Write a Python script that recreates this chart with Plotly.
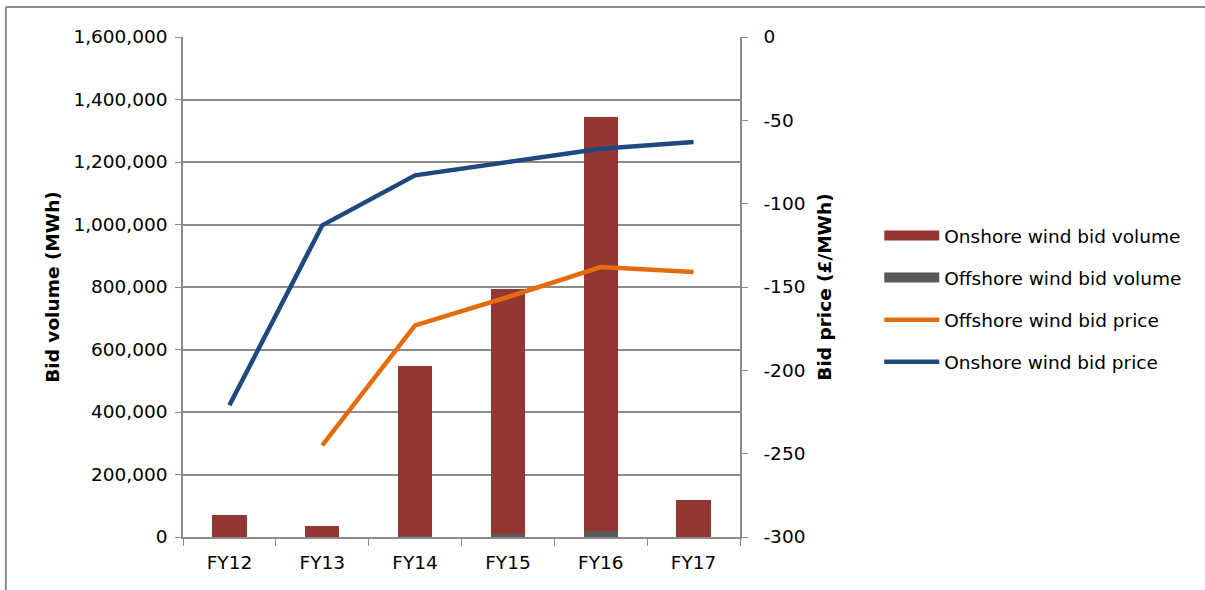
import plotly.graph_objects as go

# Financial years
categories = ["FY12", "FY13", "FY14", "FY15", "FY16", "FY17"]

# Bid volumes (MWh), stacked: offshore at the base, onshore on top
offshore_volume = [0, 0, 4000, 11000, 18000, 0]
onshore_volume = [72000, 36000, 543000, 784000, 1327000, 117000]

# Average bid prices (£/MWh)
onshore_price = [-221, -113, -83, -75, -67, -63]
offshore_price = [None, -245, -173, -156, -138, -141]

# Right-axis tick labels (plain hyphen minus)
price_ticks = [0, -50, -100, -150, -200, -250, -300]
price_tick_text = ["0", "-50", "-100", "-150", "-200", "-250", "-300"]

FONT = "DejaVu Sans"
FS = 18.5
RED = "#943634"
GREY = "#595959"
ORANGE = "#E46C0A"
BLUE = "#1F497D"
AXIS = "#8C8C8C"

fig = go.Figure()

fig.add_trace(go.Bar(x=categories, y=offshore_volume, marker=dict(color=GREY, line=dict(width=0)),
                     width=0.37, showlegend=False, name="Offshore wind bid volume"))
fig.add_trace(go.Bar(x=categories, y=onshore_volume, marker=dict(color=RED, line=dict(width=0)),
                     width=0.37, showlegend=False, name="Onshore wind bid volume"))

fig.add_trace(go.Scatter(x=categories, y=offshore_price, mode="lines", yaxis="y2",
                         line=dict(color=ORANGE, width=4.5), showlegend=False,
                         name="Offshore wind bid price"))
fig.add_trace(go.Scatter(x=categories, y=onshore_price, mode="lines", yaxis="y2",
                         line=dict(color=BLUE, width=4.5), showlegend=False,
                         name="Onshore wind bid price"))

# Legend entries (wide swatches for the bar series)
legend_items = [
    ("Onshore wind bid volume", RED, 10),
    ("Offshore wind bid volume", GREY, 10),
    ("Offshore wind bid price", ORANGE, 4.5),
    ("Onshore wind bid price", BLUE, 4.5),
]
for i, (name, color, w) in enumerate(legend_items):
    fig.add_trace(go.Scatter(x=[None], y=[None], mode="lines", name=name,
                             legendgroup=f"g{i}",
                             line=dict(color=color, width=w), yaxis="y2"))

fig.update_layout(
    width=1205, height=590,
    margin=dict(l=183, r=465, t=37, b=53),
    paper_bgcolor="white", plot_bgcolor="white",
    font=dict(family=FONT, size=FS, color="black"),
    barmode="stack",
    xaxis=dict(
        type="category", showline=True, linecolor=AXIS, linewidth=1.5,
        ticks="outside", tickson="boundaries", ticklen=7, tickcolor=AXIS,
        showgrid=False, tickfont=dict(size=FS), range=[-0.5, 5.5],
        ticklabelstandoff=8,
    ),
    yaxis=dict(
        range=[0, 1600000], dtick=200000, tickformat=",d",
        showline=True, linecolor=AXIS, linewidth=1.5,
        ticks="outside", ticklen=6, tickcolor=AXIS, ticklabelstandoff=4,
        showgrid=True, gridcolor=AXIS, gridwidth=1.5, zeroline=False,
        title=dict(text="<b>Bid volume (MWh)</b>", font=dict(size=FS), standoff=9),
    ),
    yaxis2=dict(
        overlaying="y", side="right", range=[-300, 0],
        tickvals=price_ticks, ticktext=price_tick_text,
        showline=True, linecolor=AXIS, linewidth=1.5,
        ticks="outside", ticklen=6, tickcolor=AXIS, ticklabelstandoff=12,
        showgrid=False, zeroline=False,
        title=dict(text="<b>Bid price (£/MWh)</b>", font=dict(size=FS), standoff=14),
    ),
    legend=dict(
        x=1.25, y=0.64, xanchor="left", yanchor="top",
        font=dict(size=FS), itemwidth=55, tracegroupgap=15,
        traceorder="grouped",
        bgcolor="rgba(0,0,0,0)",
    ),
    shapes=[
        dict(type="line", xref="paper", yref="paper", x0=-0.318, x1=1.84, y0=1.06, y1=1.06,
             line=dict(color=AXIS, width=2)),
        dict(type="line", xref="paper", yref="paper", x0=-0.318, x1=-0.318, y0=1.06, y1=-0.12,
             line=dict(color=AXIS, width=2)),
    ],
)

fig.write_html("out.html")
